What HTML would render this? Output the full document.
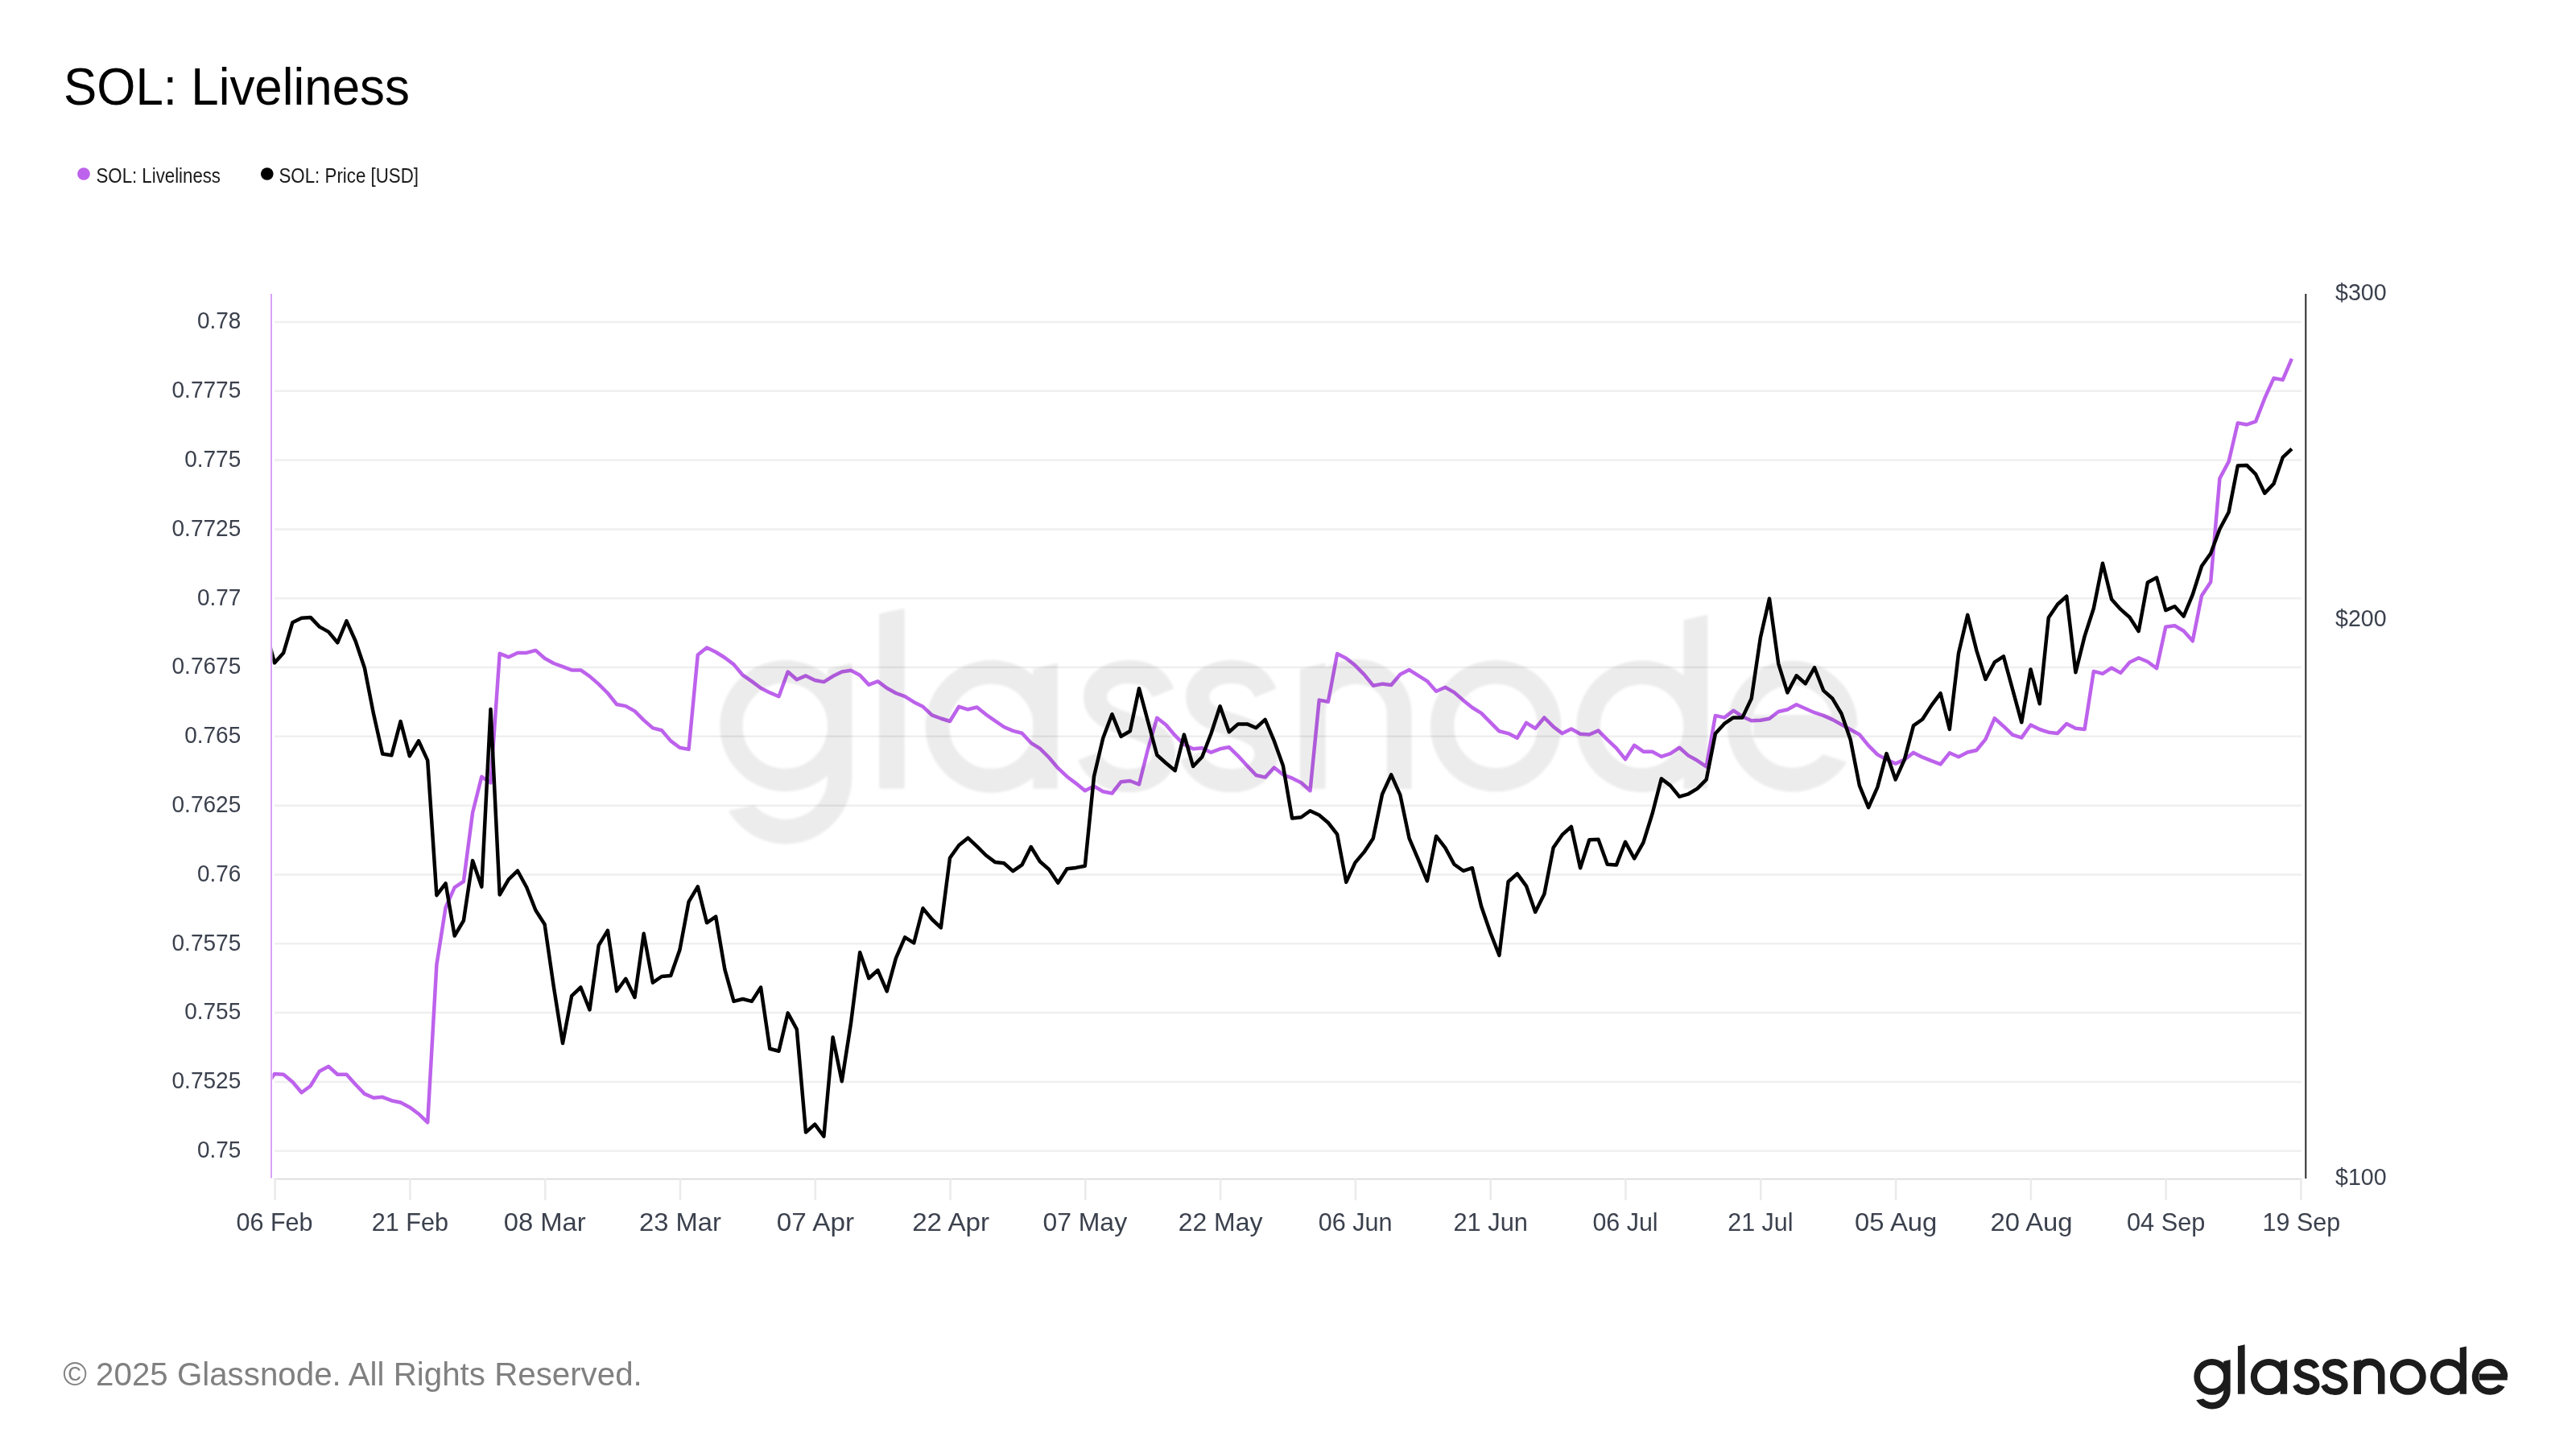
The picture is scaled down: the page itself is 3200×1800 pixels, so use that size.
<!DOCTYPE html>
<html><head><meta charset="utf-8"><title>SOL: Liveliness</title>
<style>
html,body{margin:0;padding:0;background:#fff;}
body{width:3200px;height:1800px;position:relative;overflow:hidden;font-family:"Liberation Sans",sans-serif;}
svg{position:absolute;left:0;top:0;will-change:transform;}
</style></head><body>
<svg width="3200" height="1800" viewBox="0 0 3200 1800">
<defs>
<clipPath id="plot"><rect x="338.5" y="300" width="2525" height="1164"/></clipPath>
<filter id="soft" x="-5%" y="-5%" width="110%" height="110%"><feGaussianBlur stdDeviation="0.4"/></filter>
<g id="logo"><circle cx="27.7" cy="45.34" r="18.46" fill="none" stroke-width="7.8"/>
<path d="M42.24,26.1 L50.62,23.9 L50.62,62.8 A22.72,22.72 0 0 1 8.22,74.2 L17.2,72.4 A14.38,14.38 0 0 0 42.28,62.8 Z" stroke="none"/>
<path d="M59.94,7.14 L68.63,5.28 L68.63,66.77 L59.94,66.77 Z" stroke="none"/>
<circle cx="98.4" cy="45.5" r="18.5" fill="none" stroke-width="8.2"/>
<path d="M112.7,26.1 L121.1,23.9 L121.1,66.77 L112.7,66.77 Z" stroke="none"/>
<path d="M157.3,34.1 C155,28.5 150.5,26.9 145.5,26.9 C139,26.9 134,30.5 134,35.5 C134,41 139,43 145.5,45 C152,47 157.5,49 157.5,55 C157.5,60.5 152,64 145.5,64 C139,64 134,61 131.8,55.6" fill="none" stroke-width="8"/>
<path d="M157.3,34.1 C155,28.5 150.5,26.9 145.5,26.9 C139,26.9 134,30.5 134,35.5 C134,41 139,43 145.5,45 C152,47 157.5,49 157.5,55 C157.5,60.5 152,64 145.5,64 C139,64 134,61 131.8,55.6" fill="none" stroke-width="8" transform="translate(35.1,0)"/>
<path d="M204.2,26.1 L212.9,23.9 L212.9,66.8 L204.2,66.8 Z" stroke="none"/>
<path d="M208.55,66.8 V41.25 A14.8,14.4 0 0 1 238.2,41.25 V66.8" fill="none" stroke-width="8.5"/>
<circle cx="271.3" cy="45.4" r="18.35" fill="none" stroke-width="8.1"/>
<circle cx="321.4" cy="45.5" r="18.35" fill="none" stroke-width="8.2"/>
<path d="M335.7,9.3 L343.9,7.45 L343.9,66.8 L335.7,66.8 Z" stroke="none"/>
<path d="M391.7,57.7 A22.35,22.35 0 1 1 395.35,45.5 L387.05,45.5 A14.05,14.05 0 1 0 383.4,55.0 Z" stroke="none"/>
<path d="M359.6,41.6 H394.7 V49.4 H359.6 Z" stroke="none"/></g>
</defs>
<text x="79" y="130.3" font-size="64" fill="#000" textLength="430" lengthAdjust="spacingAndGlyphs">SOL: Liveliness</text>
<circle cx="104" cy="216" r="7.85" fill="#bd62ec"/>
<text x="119.5" y="227" font-size="25.4" fill="#1a1a1a" textLength="154.5" lengthAdjust="spacingAndGlyphs">SOL: Liveliness</text>
<circle cx="331.8" cy="216" r="7.85" fill="#000"/>
<text x="346.5" y="227" font-size="25.4" fill="#1a1a1a" textLength="173.5" lengthAdjust="spacingAndGlyphs">SOL: Price [USD]</text>
<g stroke="#efefef" stroke-width="2.5"><line x1="341" y1="400.00" x2="2859" y2="400.00"/>
<line x1="341" y1="485.81" x2="2859" y2="485.81"/>
<line x1="341" y1="571.62" x2="2859" y2="571.62"/>
<line x1="341" y1="657.43" x2="2859" y2="657.43"/>
<line x1="341" y1="743.24" x2="2859" y2="743.24"/>
<line x1="341" y1="829.05" x2="2859" y2="829.05"/>
<line x1="341" y1="914.86" x2="2859" y2="914.86"/>
<line x1="341" y1="1000.67" x2="2859" y2="1000.67"/>
<line x1="341" y1="1086.48" x2="2859" y2="1086.48"/>
<line x1="341" y1="1172.29" x2="2859" y2="1172.29"/>
<line x1="341" y1="1258.10" x2="2859" y2="1258.10"/>
<line x1="341" y1="1343.91" x2="2859" y2="1343.91"/>
<line x1="341" y1="1429.72" x2="2859" y2="1429.72"/></g>
<line x1="340" y1="1464.7" x2="2860" y2="1464.7" stroke="#d9d9d9" stroke-width="1.8"/>
<g stroke="#ebebeb" stroke-width="2.6"><line x1="341.6" y1="1464" x2="341.6" y2="1491"/>
<line x1="509.4" y1="1464" x2="509.4" y2="1491"/>
<line x1="677.2" y1="1464" x2="677.2" y2="1491"/>
<line x1="845.0" y1="1464" x2="845.0" y2="1491"/>
<line x1="1012.8" y1="1464" x2="1012.8" y2="1491"/>
<line x1="1180.5" y1="1464" x2="1180.5" y2="1491"/>
<line x1="1348.3" y1="1464" x2="1348.3" y2="1491"/>
<line x1="1516.1" y1="1464" x2="1516.1" y2="1491"/>
<line x1="1683.9" y1="1464" x2="1683.9" y2="1491"/>
<line x1="1851.7" y1="1464" x2="1851.7" y2="1491"/>
<line x1="2019.5" y1="1464" x2="2019.5" y2="1491"/>
<line x1="2187.3" y1="1464" x2="2187.3" y2="1491"/>
<line x1="2355.1" y1="1464" x2="2355.1" y2="1491"/>
<line x1="2522.9" y1="1464" x2="2522.9" y2="1491"/>
<line x1="2690.7" y1="1464" x2="2690.7" y2="1491"/>
<line x1="2858.4" y1="1464" x2="2858.4" y2="1491"/></g>
<line x1="337" y1="365" x2="337" y2="1463.5" stroke="#d9a2f6" stroke-width="2"/>
<line x1="2864.3" y1="365" x2="2864.3" y2="1464" stroke="#2a2a2a" stroke-width="2"/>
<g font-size="28.6" fill="#3b414d"><text x="299.3" y="408.3" text-anchor="end" textLength="54.4" lengthAdjust="spacingAndGlyphs">0.78</text>
<text x="299.3" y="494.1" text-anchor="end" textLength="85.8" lengthAdjust="spacingAndGlyphs">0.7775</text>
<text x="299.3" y="579.9" text-anchor="end" textLength="70.1" lengthAdjust="spacingAndGlyphs">0.775</text>
<text x="299.3" y="665.7" text-anchor="end" textLength="85.8" lengthAdjust="spacingAndGlyphs">0.7725</text>
<text x="299.3" y="751.5" text-anchor="end" textLength="54.4" lengthAdjust="spacingAndGlyphs">0.77</text>
<text x="299.3" y="837.3" text-anchor="end" textLength="85.8" lengthAdjust="spacingAndGlyphs">0.7675</text>
<text x="299.3" y="923.2" text-anchor="end" textLength="70.1" lengthAdjust="spacingAndGlyphs">0.765</text>
<text x="299.3" y="1009.0" text-anchor="end" textLength="85.8" lengthAdjust="spacingAndGlyphs">0.7625</text>
<text x="299.3" y="1094.8" text-anchor="end" textLength="54.4" lengthAdjust="spacingAndGlyphs">0.76</text>
<text x="299.3" y="1180.6" text-anchor="end" textLength="85.8" lengthAdjust="spacingAndGlyphs">0.7575</text>
<text x="299.3" y="1266.4" text-anchor="end" textLength="70.1" lengthAdjust="spacingAndGlyphs">0.755</text>
<text x="299.3" y="1352.2" text-anchor="end" textLength="85.8" lengthAdjust="spacingAndGlyphs">0.7525</text>
<text x="299.3" y="1438.0" text-anchor="end" textLength="54.4" lengthAdjust="spacingAndGlyphs">0.75</text>
<text x="2901" y="373.0">$300</text>
<text x="2901" y="778.1">$200</text>
<text x="2901" y="1471.5">$100</text></g>
<g font-size="32" fill="#3b414d"><text x="341.00" y="1528.7" text-anchor="middle" textLength="95.2" lengthAdjust="spacingAndGlyphs">06 Feb</text>
<text x="509.30" y="1528.7" text-anchor="middle" textLength="95.2" lengthAdjust="spacingAndGlyphs">21 Feb</text>
<text x="676.75" y="1528.7" text-anchor="middle" textLength="102.1" lengthAdjust="spacingAndGlyphs">08 Mar</text>
<text x="845.00" y="1528.7" text-anchor="middle" textLength="101.9" lengthAdjust="spacingAndGlyphs">23 Mar</text>
<text x="1013.00" y="1528.7" text-anchor="middle" textLength="96.3" lengthAdjust="spacingAndGlyphs">07 Apr</text>
<text x="1181.10" y="1528.7" text-anchor="middle" textLength="95.8" lengthAdjust="spacingAndGlyphs">22 Apr</text>
<text x="1347.75" y="1528.7" text-anchor="middle" textLength="104.7" lengthAdjust="spacingAndGlyphs">07 May</text>
<text x="1516.10" y="1528.7" text-anchor="middle" textLength="104.8" lengthAdjust="spacingAndGlyphs">22 May</text>
<text x="1683.65" y="1528.7" text-anchor="middle" textLength="91.9" lengthAdjust="spacingAndGlyphs">06 Jun</text>
<text x="1851.70" y="1528.7" text-anchor="middle" textLength="92.4" lengthAdjust="spacingAndGlyphs">21 Jun</text>
<text x="2019.00" y="1528.7" text-anchor="middle" textLength="81.1" lengthAdjust="spacingAndGlyphs">06 Jul</text>
<text x="2186.85" y="1528.7" text-anchor="middle" textLength="81.1" lengthAdjust="spacingAndGlyphs">21 Jul</text>
<text x="2355.20" y="1528.7" text-anchor="middle" textLength="102.2" lengthAdjust="spacingAndGlyphs">05 Aug</text>
<text x="2523.50" y="1528.7" text-anchor="middle" textLength="102.2" lengthAdjust="spacingAndGlyphs">20 Aug</text>
<text x="2690.65" y="1528.7" text-anchor="middle" textLength="97.3" lengthAdjust="spacingAndGlyphs">04 Sep</text>
<text x="2858.85" y="1528.7" text-anchor="middle" textLength="96.5" lengthAdjust="spacingAndGlyphs">19 Sep</text></g>
<g clip-path="url(#plot)" fill="none" stroke-width="4.5" stroke-linejoin="round">
<polyline stroke="#bd62ec" points="329.8,1350.0 341.0,1334.0 352.2,1334.7 363.4,1344.0 374.6,1357.2 385.7,1349.0 396.9,1330.7 408.1,1324.8 419.3,1334.7 430.5,1334.7 441.7,1347.3 452.9,1358.9 464.1,1363.8 475.2,1362.8 486.4,1367.2 497.6,1369.5 508.8,1375.4 520.0,1383.7 531.2,1394.3 542.4,1198.3 553.6,1127.1 564.7,1102.3 575.9,1095.0 587.1,1009.5 598.3,964.8 609.5,972.5 620.7,811.8 631.9,816.3 643.0,810.9 654.2,810.9 665.4,807.9 676.6,817.7 687.8,824.0 699.0,828.2 710.2,832.4 721.4,832.4 732.5,840.1 743.7,849.9 754.9,861.0 766.1,875.0 777.3,877.1 788.5,883.4 799.7,894.6 810.9,904.4 822.0,907.2 833.2,920.4 844.4,928.8 855.6,930.9 866.8,813.5 878.0,804.5 889.2,810.0 900.4,817.0 911.5,825.4 922.7,838.7 933.9,846.4 945.1,854.8 956.3,860.4 967.5,865.2 978.7,834.5 989.8,844.3 1001.0,839.4 1012.2,845.0 1023.4,847.1 1034.6,840.1 1045.8,834.5 1057.0,832.8 1068.2,838.7 1079.3,850.6 1090.5,846.4 1101.7,854.8 1112.9,861.0 1124.1,865.2 1135.3,872.2 1146.5,877.8 1157.7,888.3 1168.8,892.5 1180.0,896.0 1191.2,877.8 1202.4,881.3 1213.6,878.5 1224.8,887.6 1236.0,895.3 1247.1,903.0 1258.3,907.9 1269.5,910.7 1280.7,922.8 1291.9,929.8 1303.1,941.0 1314.3,954.2 1325.5,964.7 1336.6,973.1 1347.8,982.2 1359.0,976.6 1370.2,983.3 1381.4,985.5 1392.6,971.2 1403.8,970.0 1415.0,974.5 1426.1,930.3 1437.3,891.7 1448.5,900.5 1459.7,913.7 1470.9,924.8 1482.1,930.3 1493.3,929.2 1504.4,934.7 1515.6,930.3 1526.8,928.1 1538.0,939.1 1549.2,951.3 1560.4,963.0 1571.6,965.6 1582.8,953.5 1593.9,962.3 1605.1,966.7 1616.3,972.3 1627.5,982.2 1638.7,869.6 1649.9,871.8 1661.1,812.1 1672.3,817.7 1683.4,826.6 1694.6,837.8 1705.8,851.7 1717.0,849.6 1728.2,851.0 1739.4,837.7 1750.6,832.1 1761.7,839.1 1772.9,846.1 1784.1,858.7 1795.3,853.8 1806.5,860.1 1817.7,869.9 1828.9,879.0 1840.1,885.9 1851.2,897.1 1862.4,908.3 1873.6,911.1 1884.8,916.7 1896.0,897.8 1907.2,904.8 1918.4,891.5 1929.6,902.7 1940.7,911.1 1951.9,905.5 1963.1,911.8 1974.3,912.5 1985.5,907.6 1996.7,918.8 2007.9,929.3 2019.0,943.2 2030.2,925.8 2041.4,933.7 2052.6,933.7 2063.8,939.9 2075.0,936.1 2086.2,928.7 2097.4,938.6 2108.5,944.8 2119.7,952.3 2130.9,888.9 2142.1,891.4 2153.3,882.7 2164.5,890.2 2175.7,895.2 2186.9,894.7 2198.0,892.7 2209.2,884.0 2220.4,881.5 2231.6,875.3 2242.8,880.2 2254.0,885.2 2265.2,888.9 2276.4,893.9 2287.5,900.1 2298.7,906.3 2309.9,912.5 2321.1,926.2 2332.3,937.4 2343.5,943.6 2354.7,948.6 2365.8,943.6 2377.0,934.9 2388.2,940.7 2399.4,945.2 2410.6,949.4 2421.8,935.3 2433.0,940.2 2444.2,934.5 2455.3,932.0 2466.5,918.4 2477.7,892.3 2488.9,902.2 2500.1,912.9 2511.3,916.4 2522.5,900.5 2533.7,906.0 2544.8,909.7 2556.0,910.9 2567.2,899.0 2578.4,904.7 2589.6,906.0 2600.8,833.9 2612.0,836.9 2623.1,829.7 2634.3,835.9 2645.5,822.7 2656.7,817.3 2667.9,822.0 2679.1,830.2 2690.3,778.8 2701.5,777.3 2712.6,783.7 2723.8,796.3 2735.0,739.9 2746.2,722.9 2757.4,594.4 2768.6,573.4 2779.8,525.4 2791.0,527.5 2802.1,523.6 2813.3,494.7 2824.5,469.8 2835.7,471.9 2846.9,445.7"/>
<polyline stroke="#000" points="329.8,782.0 341.0,823.4 352.2,810.9 363.4,773.2 374.6,767.8 385.7,766.9 396.9,778.6 408.1,784.9 419.3,798.3 430.5,771.4 441.7,796.5 452.9,829.7 464.1,887.1 475.2,936.5 486.4,938.3 497.6,896.1 508.8,939.2 520.0,920.3 531.2,944.6 542.4,1112.2 553.6,1097.3 564.7,1162.5 575.9,1143.6 587.1,1069.1 598.3,1101.6 609.5,880.9 620.7,1111.5 631.9,1092.3 643.0,1081.7 654.2,1102.3 665.4,1130.8 676.6,1148.2 687.8,1225.5 699.0,1296.0 710.2,1237.1 721.4,1226.5 732.5,1254.5 743.7,1174.3 754.9,1155.9 766.1,1231.3 777.3,1215.8 788.5,1239.0 799.7,1159.8 810.9,1220.7 822.0,1213.0 833.2,1212.0 844.4,1180.1 855.6,1120.2 866.8,1101.4 878.0,1146.3 889.2,1138.6 900.4,1204.3 911.5,1243.9 922.7,1241.0 933.9,1243.9 945.1,1226.5 956.3,1302.8 967.5,1305.7 978.7,1258.4 989.8,1278.6 1001.0,1406.6 1012.2,1396.6 1023.4,1411.6 1034.6,1288.6 1045.8,1343.2 1057.0,1271.2 1068.2,1183.0 1079.3,1215.3 1090.5,1205.3 1101.7,1231.4 1112.9,1190.4 1124.1,1164.3 1135.3,1171.3 1146.5,1128.3 1157.7,1142.0 1168.8,1152.4 1180.0,1065.8 1191.2,1050.0 1202.4,1040.9 1213.6,1051.4 1224.8,1062.5 1236.0,1070.9 1247.1,1072.3 1258.3,1082.1 1269.5,1074.4 1280.7,1052.0 1291.9,1070.2 1303.1,1080.0 1314.3,1096.8 1325.5,1079.3 1336.6,1077.9 1347.8,1075.8 1359.0,964.5 1370.2,917.0 1381.4,887.2 1392.6,914.8 1403.8,908.2 1415.0,855.2 1426.1,896.5 1437.3,938.0 1448.5,948.0 1459.7,957.2 1470.9,912.6 1482.1,952.0 1493.3,940.2 1504.4,911.5 1515.6,877.3 1526.8,909.3 1538.0,899.4 1549.2,899.4 1560.4,904.2 1571.6,893.9 1582.8,920.4 1593.9,951.3 1605.1,1016.4 1616.3,1015.3 1627.5,1007.2 1638.7,1012.5 1649.9,1022.0 1661.1,1036.3 1672.3,1095.9 1683.4,1071.6 1694.6,1058.4 1705.8,1041.4 1717.0,986.7 1728.2,962.4 1739.4,987.6 1750.6,1041.4 1761.7,1067.4 1772.9,1094.3 1784.1,1038.7 1795.3,1053.1 1806.5,1073.7 1817.7,1081.8 1828.9,1078.2 1840.1,1125.7 1851.2,1158.0 1862.4,1186.8 1873.6,1095.2 1884.8,1085.4 1896.0,1100.6 1907.2,1132.9 1918.4,1110.5 1929.6,1053.1 1940.7,1036.9 1951.9,1027.0 1963.1,1078.2 1974.3,1043.2 1985.5,1042.7 1996.7,1073.7 2007.9,1074.6 2019.0,1045.9 2030.2,1066.5 2041.4,1046.7 2052.6,1010.7 2063.8,967.2 2075.0,975.9 2086.2,989.6 2097.4,986.3 2108.5,979.6 2119.7,968.4 2130.9,911.3 2142.1,898.9 2153.3,891.4 2164.5,891.4 2175.7,867.8 2186.9,792.0 2198.0,743.6 2209.2,824.3 2220.4,860.4 2231.6,839.3 2242.8,849.2 2254.0,829.3 2265.2,857.9 2276.4,867.8 2287.5,886.5 2298.7,918.8 2309.9,975.9 2321.1,1003.2 2332.3,977.9 2343.5,936.1 2354.7,968.4 2365.8,943.6 2377.0,901.4 2388.2,893.5 2399.4,876.1 2410.6,861.2 2421.8,906.0 2433.0,811.6 2444.2,763.9 2455.3,807.8 2466.5,843.9 2477.7,822.7 2488.9,815.3 2500.1,856.3 2511.3,897.3 2522.5,831.4 2533.7,874.2 2544.8,767.3 2556.0,750.7 2567.2,740.7 2578.4,835.2 2589.6,790.4 2600.8,755.7 2612.0,699.8 2623.1,744.5 2634.3,756.9 2645.5,766.8 2656.7,784.2 2667.9,723.4 2679.1,717.6 2690.3,758.1 2701.5,753.2 2712.6,765.6 2723.8,738.6 2735.0,703.2 2746.2,687.5 2757.4,657.3 2768.6,636.3 2779.8,578.6 2791.0,577.9 2802.1,589.1 2813.3,612.7 2824.5,600.9 2835.7,568.2 2846.9,557.7"/>
</g>
<g fill="#000" stroke="#000" opacity="0.076" filter="url(#soft)" transform="translate(874.9,736.4) scale(3.624,3.646)"><use href="#logo"/></g>
<text x="78.2" y="1720.5" font-size="40.3" fill="#808080">© 2025 Glassnode. All Rights Reserved.</text>
<g fill="#1c1c1c" stroke="#1c1c1c" transform="translate(2720,1665)"><use href="#logo"/></g>
</svg>
</body></html>
